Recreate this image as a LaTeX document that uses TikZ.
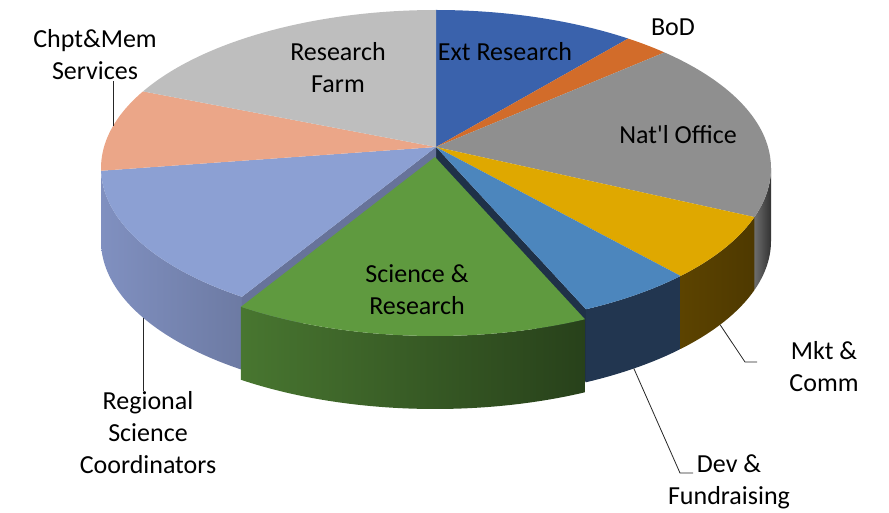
\documentclass[tikz,border=0pt]{standalone}
\usepackage{fontspec}
\setmainfont{Carlito}
\usetikzlibrary{calc}

\definecolor{extblue}{RGB}{58,98,172}
\definecolor{bodorange}{RGB}{210,108,42}
\definecolor{natgray}{RGB}{143,143,143}
\definecolor{mktgold}{RGB}{223,168,0}
\definecolor{devblue}{RGB}{76,134,189}
\definecolor{scigreen}{RGB}{95,154,63}
\definecolor{regblue}{RGB}{140,160,211}
\definecolor{chptpeach}{RGB}{235,166,136}
\definecolor{farmgray}{RGB}{190,190,190}
\definecolor{natside}{RGB}{72,72,72}
\definecolor{mktside}{RGB}{92,67,0}
\definecolor{devside}{RGB}{34,54,80}
\definecolor{sciside}{RGB}{72,118,48}
\definecolor{regside}{RGB}{128,144,192}

\begin{document}
\begin{tikzpicture}[x=1pt,y=1pt,font=\fontsize{26}{32}\selectfont]
\tikzset{
    %Define the ellipse of the pie rim
    rim/.style={x radius=335,y radius=158},
    %Define style for slice labels
    lbl/.style={align=center,inner sep=1pt},
    % Define leader line style
    lead/.style={draw=black!85,line width=0.8pt}
}
	\path[use as bounding box] (0,0) rectangle (889,-513);

	\coordinate (ctr) at (436,-168);
	\coordinate (apex) at (436,-147);
	% centre and apex of the pulled out slice
	\coordinate (sctr) at ($(ctr)+(-1,-10)$);
	\coordinate (sapex) at ($(apex)+(-1,-10)$);

 %side walls
	\foreach \a/\b/\lc/\rc in {0/-18.1/natside!80!white/natside!70!black,-18.1/-43.1/mktside/mktside!85!black,-43.1/-63.4/devside/devside,-125.4/-180/regside/regside!85!black}
		\shade[left color=\lc,right color=\rc] ($(ctr)+(\a:335 and 158)$) arc[start angle=\a,end angle=\b,rim] -- ++(0,-73) arc[start angle=\b,end angle=\a,rim] -- cycle;

 %faces left open by the pulled out slice
	\fill[devside!90!black] (apex) -- ($(ctr)+(-63.4:335 and 158)$) -- ++(0,-73) -- ($(apex)+(0,-73)$) -- cycle;
	\fill[regside!80!black] (apex) -- ($(ctr)+(-125.4:335 and 158)$) -- ++(0,-73) -- ($(apex)+(0,-73)$) -- cycle;

 %slice tops
	\foreach \a/\b/\col in {90/55/extblue,55/47/bodorange,47/-18.1/natgray,-18.1/-43.1/mktgold,-43.1/-63.4/devblue,-125.4/-179/regblue,181/151/chptpeach,151/90/farmgray}
		\fill[\col] (apex) -- ($(ctr)+(\a:335 and 158)$) arc[start angle=\a,end angle=\b,rim] -- cycle;

 %pulled out slice
	\shade[left color=sciside,right color=sciside!55!black] ($(sctr)+(-63.4:335 and 158)$) arc[start angle=-63.4,end angle=-125.4,rim] -- ++(0,-73) arc[start angle=-125.4,end angle=-63.4,rim] -- cycle;
	\fill[scigreen] (sapex) -- ($(sctr)+(-63.4:335 and 158)$) arc[start angle=-63.4,end angle=-125.4,rim] -- cycle;

 %labels
	\node[lbl] (farm) at (338,-68) {Research\\Farm};
	\node[lbl] (ext) at (505,-52) {Ext Research};
	\node[lbl] (bod) at (673,-27) {BoD};
	\node[lbl] (natl) at (678,-135) {Nat\textquotesingle l Office};
	\node[lbl] (sci) at (417,-290) {Science \&\\Research};
	\node[lbl] (chpt) at (95,-55) {Chpt\&Mem\\Services};
	\node[lbl] (reg) at (148,-433) {Regional\\Science\\Coordinators};
	\node[lbl] (mkt) at (824,-367) {Mkt \&\\Comm};
	\node[lbl] (dev) at (729,-482) {Dev \&\\Fundraising};

 %leader lines
	\coordinate (chptpt) at ($(ctr)+(164.6:335 and 158)$);
	\coordinate (regpt) at ($(ctr)+(-151:335 and 158)+(0,-73)$);
	\coordinate (mktpt) at ($(ctr)+(-32:335 and 158)+(0,-73)$);
	\coordinate (devpt) at ($(ctr)+(-53.8:335 and 158)+(0,-73)$);
	\coordinate (mktbend) at (745,-362);
	\coordinate (devbend) at (680,-473);

	\draw[lead] (chptpt) -- (chptpt |- chpt.south);
	\draw[lead] (regpt) -- (regpt |- reg.north);
	\draw[lead] (mktpt) -- (mktbend) -- ++(12,0);
	\draw[lead] (devpt) -- (devbend) -- ++(13,0);

\end{tikzpicture}
\end{document}
